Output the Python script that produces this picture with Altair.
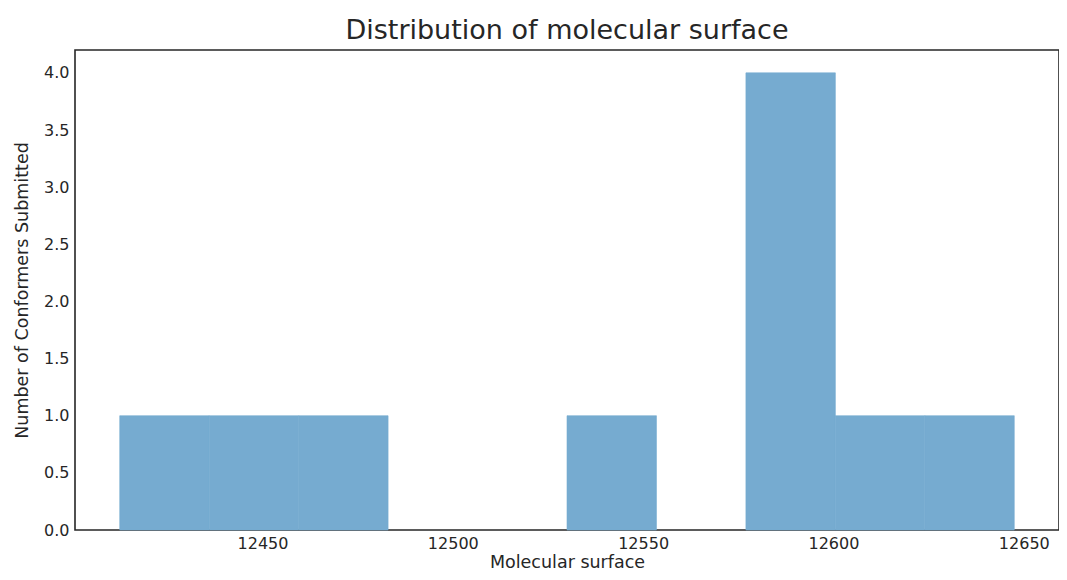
import altair as alt
import pandas as pd

bin_starts = [12412.5, 12436.0, 12459.5, 12483.0, 12506.5, 12530.0, 12553.5, 12577.0, 12600.5, 12624.0]
bin_ends = [12436.0, 12459.5, 12483.0, 12506.5, 12530.0, 12553.5, 12577.0, 12600.5, 12624.0, 12647.5]
counts = [1, 1, 1, 0, 0, 1, 0, 4, 1, 1]
x_ticks = [12450, 12500, 12550, 12600, 12650]
y_ticks = [0.0, 0.5, 1.0, 1.5, 2.0, 2.5, 3.0, 3.5, 4.0]

df = pd.DataFrame({"start": bin_starts, "end": bin_ends, "count": counts})

font = "DejaVu Sans"
text_color = "#262626"
bar_color = "#76abd0"

chart = (
    alt.Chart(df)
    .mark_rect(color=bar_color, stroke=bar_color, strokeWidth=0.6)
    .encode(
        x=alt.X(
            "start:Q",
            scale=alt.Scale(domain=[12400.75, 12659.25], nice=False, zero=False),
            axis=alt.Axis(
                values=x_ticks,
                title="Molecular surface",
                format="d",
                grid=False,
                domain=False,
                ticks=False,
                labelPadding=5,
                titlePadding=2,
            ),
        ),
        x2="end:Q",
        y=alt.Y(
            "count:Q",
            scale=alt.Scale(domain=[0, 4.2], nice=False),
            axis=alt.Axis(
                values=y_ticks,
                title="Number of Conformers Submitted",
                format=".1f",
                grid=False,
                domain=False,
                ticks=False,
                labelPadding=6,
                titlePadding=12,
            ),
        ),
        y2=alt.datum(0),
    )
    .transform_filter(alt.datum["count"] > 0)
    .properties(
        width=984,
        height=480,
        title=alt.Title(
            "Distribution of molecular surface",
            fontSize=27,
            font=font,
            fontWeight="normal",
            color=text_color,
            offset=5,
        ),
        autosize=alt.AutoSizeParams(type="none"),
        padding={"left": 67, "top": 42, "right": 0, "bottom": 42},
    )
    .configure_view(stroke="#262626", strokeWidth=1.6)
    .configure_axis(
        labelFont=font,
        titleFont=font,
        labelFontSize=16,
        titleFontSize=17.5,
        labelColor=text_color,
        titleColor=text_color,
        titleFontWeight="normal",
    )
)

chart.save("out.html", embed_options={"renderer": "svg", "actions": False})
